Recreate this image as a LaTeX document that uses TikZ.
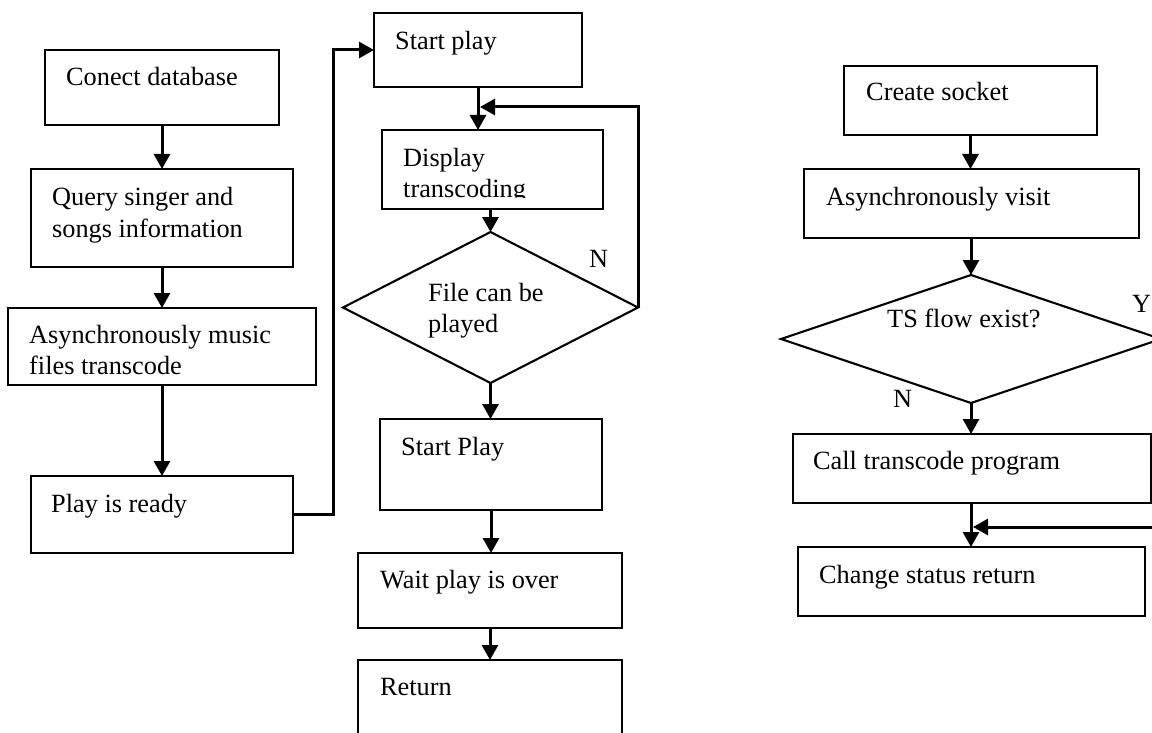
\documentclass[tikz,border=0pt]{standalone}
\usepackage{fontspec}
\setmainfont{Liberation Serif}
\usetikzlibrary{arrows.meta,shapes.geometric}
\begin{document}
\begin{tikzpicture}[x=1pt,y=-1pt,
  box/.style={draw,line width=2.1pt,inner sep=0pt,outer sep=0pt,anchor=north west},
  dia/.style={draw,diamond,line width=2.1pt,inner sep=0pt,outer sep=0pt},
  txt/.style={anchor=base west,inner sep=0pt,font=\fontsize{26.3}{31}\selectfont,align=left},
  conn/.style={line width=3pt,-{Triangle[width=16pt,length=15pt]}},
  wire/.style={line width=3pt}]
\useasboundingbox (0,0) rectangle (1152,733);
\clip (0,0) rectangle (1152,733);
% left column
\node[box,minimum width=234pt,minimum height=75pt] (cd) at (45,50) {};
\node[box,minimum width=262pt,minimum height=98pt] (qs) at (31,169) {};
\node[box,minimum width=308pt,minimum height=77pt] (am) at (8,308) {};
\node[box,minimum width=262pt,minimum height=77pt] (pr) at (31,476) {};
\node[txt] (tcd) at (66,86) {Conect database};
\node[txt,font=\fontsize{26.3}{32}\selectfont] (tqs) at (52,237) {Query singer and\\songs information};
\node[txt] (tam) at (29,374) {Asynchronously music\\files transcode};
\node[txt] (tpr) at (51,512) {Play is ready};
% middle column
\node[box,minimum width=208pt,minimum height=74pt] (sp) at (374,13) {};
\node[box,minimum width=221pt,minimum height=79pt] (dt) at (382,130) {};
\node[dia,minimum width=295pt,minimum height=151pt] (fp) at (490.5,307.5) {};
\node[box,minimum width=222pt,minimum height=91pt] (sp2) at (380,419) {};
\node[box,minimum width=264pt,minimum height=75pt] (wp) at (358,553) {};
\node[box,minimum width=264pt,minimum height=120pt] (ret) at (358,660) {};
\node[txt] (tsp) at (395,50) {Start play};
\begin{scope}
\clip (382,130) rectangle (603,197.5);
\node[txt] (tdt) at (403,197) {Display\\transcoding};
\end{scope}
\node[txt] (tfp) at (428,332) {File can be\\played};
\node[txt] (nfp) at (589,267) {N};
\node[txt] (tsp2) at (401,455) {Start Play};
\node[txt] (twp) at (380,588) {Wait play is over};
\node[txt] (tret) at (380,695) {Return};
% right column
\node[box,minimum width=253pt,minimum height=69pt] (cs) at (844,66) {};
\node[box,minimum width=335pt,minimum height=69pt] (av) at (804,169) {};
\node[dia,minimum width=380pt,minimum height=128pt] (ts) at (971,339) {};
\node[box,minimum width=358pt,minimum height=69pt] (ct) at (793,434) {};
\node[box,minimum width=347pt,minimum height=69pt] (ch) at (798,547) {};
\node[txt] (tcs) at (866,101) {Create socket};
\node[txt] (tav) at (826,206) {Asynchronously visit};
\node[txt] (tts) at (887,327) {TS flow exist?};
\node[txt] (yts) at (1132,312) {Y};
\node[txt] (nts) at (893,407) {N};
\node[txt] (tct) at (813,469) {Call transcode program};
\node[txt] (tch) at (819,583) {Change status return};
% connectors left
\draw[conn] (cd.south) -- (qs.north);
\draw[conn] (qs.south) -- (am.north);
\draw[conn] (am.south) -- (pr.north);
\draw[conn] (pr.east) -- (333,514.5) |- (sp.west);
% connectors middle
\draw[conn] (sp.south) -- (sp.south |- dt.north);
\coordinate (j1) at (480,107);
\draw[conn] (fp.east) |- (j1);
\draw[conn] (dt.south -| fp.north) -- (fp.north);
\draw[conn] (fp.south) -- (fp.south |- sp2.north);
\draw[conn] (sp2.south) -- (sp2.south |- wp.north);
\draw[conn] (wp.south) -- (ret.north);
% connectors right
\draw[conn] (cs.south) -- (cs.south |- av.north);
\draw[conn] (av.south -| ts.north) -- (ts.north);
\draw[conn] (ts.south) -- (ts.south |- ct.north);
\draw[conn] (ts.south |- ct.south) -- (ts.south |- ch.north);
\coordinate (j2) at (973,527);
\draw[conn] (ts.east) -- ++(15,0) |- (j2);
\end{tikzpicture}
\end{document}
